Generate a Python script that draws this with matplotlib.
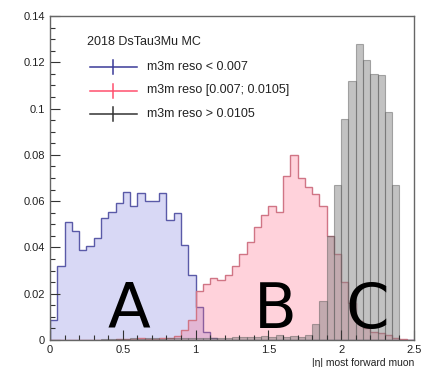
import numpy as np
import matplotlib
matplotlib.use('Agg')
import matplotlib.pyplot as plt
from matplotlib.lines import Line2D
from matplotlib.ticker import MultipleLocator, FuncFormatter

# |eta| binning: 50 bins of 0.05 from 0 to 2.5
edges = np.linspace(0, 2.5, 51)

# normalised yields per bin, one list per m3m resolution category
reso_low = [0.0087, 0.032, 0.051, 0.047, 0.039, 0.0405, 0.044, 0.0526, 0.0555, 0.0593,
            0.064, 0.058, 0.0637, 0.060, 0.060, 0.0637, 0.052, 0.055, 0.041, 0.028,
            0.0144, 0.0036, 0.001, 0, 0, 0, 0, 0, 0, 0,
            0, 0, 0, 0, 0, 0, 0, 0, 0, 0,
            0, 0, 0, 0, 0, 0, 0, 0, 0, 0]
reso_mid = [0, 0, 0, 0, 0, 0, 0, 0, 0, 0.0003,
            0.0005, 0.0005, 0.0008, 0.0005, 0.0005, 0.0008, 0.001, 0.0017, 0.0043, 0.0086,
            0.021, 0.024, 0.027, 0.026, 0.028, 0.032, 0.037, 0.0425, 0.049, 0.054,
            0.058, 0.0555, 0.071, 0.080, 0.070, 0.066, 0.063, 0.058, 0.045, 0.037,
            0.025, 0.016, 0.008, 0.005, 0.0033, 0.003, 0.002, 0.001, 0.0005, 0]
reso_high = [0, 0, 0, 0, 0, 0, 0, 0.0005, 0.0005, 0.0005,
             0.0005, 0.0008, 0.0005, 0.0008, 0.0008, 0.0005, 0.001, 0.0008, 0.0008, 0.001,
             0.0008, 0.001, 0.0008, 0.001, 0.001, 0.0012, 0.0015, 0.0012, 0.0015, 0.0018,
             0.0012, 0.002, 0.0015, 0.0018, 0.0015, 0.002, 0.007, 0.017, 0.045, 0.067,
             0.0954, 0.112, 0.128, 0.121, 0.115, 0.1145, 0.0987, 0.067, 0, 0]

legend_title = '2018 DsTau3Mu MC'
legend_labels = ['m3m reso < 0.007', 'm3m reso [0.007; 0.0105]', 'm3m reso > 0.0105']
legend_colors = ['#3a3a98', '#ff4f6e', '#333333']
region_names = ['A', 'B', 'C']
region_x = [0.54, 1.55, 2.18]

fig = plt.figure(figsize=(4.33, 3.67), dpi=100)
ax = fig.add_axes([50 / 433, 1 - 340 / 367, 364 / 433, 324 / 367])

ax.stairs(reso_low, edges, fill=True, color='#8080e0', alpha=0.3, lw=0)
ax.stairs(reso_low, edges, color='#5a5aa8', lw=1.0)
ax.stairs(reso_mid, edges, fill=True, color='#ff6a88', alpha=0.3, lw=0)
ax.stairs(reso_mid, edges, color='#d07585', lw=1.0)
centers = 0.5 * (edges[:-1] + edges[1:])
ax.bar(centers, reso_high, width=0.05, color='#808080', alpha=0.48,
       edgecolor='#5a5a5a', linewidth=0.8)

ax.set_xlim(0, 2.5)
ax.set_ylim(0, 0.14)
ax.xaxis.set_major_locator(MultipleLocator(0.5))
ax.xaxis.set_minor_locator(MultipleLocator(0.1))
ax.yaxis.set_major_locator(MultipleLocator(0.02))
ax.yaxis.set_minor_locator(MultipleLocator(0.005))
ax.xaxis.set_major_formatter(FuncFormatter(lambda v, p: f'{v:g}'))
ax.yaxis.set_major_formatter(FuncFormatter(lambda v, p: f'{v:g}'))
ax.tick_params(which='both', direction='in', top=False, right=False,
               labelsize=8, colors='#333333', labelcolor='#222222')
ax.tick_params(which='major', length=7, width=0.8)
ax.tick_params(which='minor', length=3.5, width=0.8)
for lab in ax.get_xticklabels() + ax.get_yticklabels():
    lab.set_family('Liberation Sans')
for sp in ax.spines.values():
    sp.set_color('#666666')
    sp.set_linewidth(1)

# legend block drawn by hand in ROOT style
fig.text(87 / 433, 1 - 42 / 367, legend_title, fontsize=9, family='Liberation Sans',
         va='center', ha='left', color='#222222')
for i, (lab, col) in enumerate(zip(legend_labels, legend_colors)):
    yp = 1 - (67 + 23.5 * i) / 367
    fig.add_artist(Line2D([90 / 433, 137 / 433], [yp, yp], color=col, lw=1.1))
    fig.add_artist(Line2D([113 / 433, 113 / 433], [yp - 7 / 367, yp + 7 / 367], color=col, lw=1.1))
    fig.text(147 / 433, yp, lab, fontsize=9, family='Liberation Sans',
             va='center', ha='left', color='#222222')

for name, xv in zip(region_names, region_x):
    ax.text(xv, 0.0052, name, fontsize=45, family='DejaVu Sans', ha='center', va='baseline')

fig.text(414 / 433, 1 - 358 / 367, '|η| most forward muon', fontsize=7.5,
         family='Liberation Sans', ha='right', va='top', color='#222222')

fig.savefig('out.png', dpi=100)
